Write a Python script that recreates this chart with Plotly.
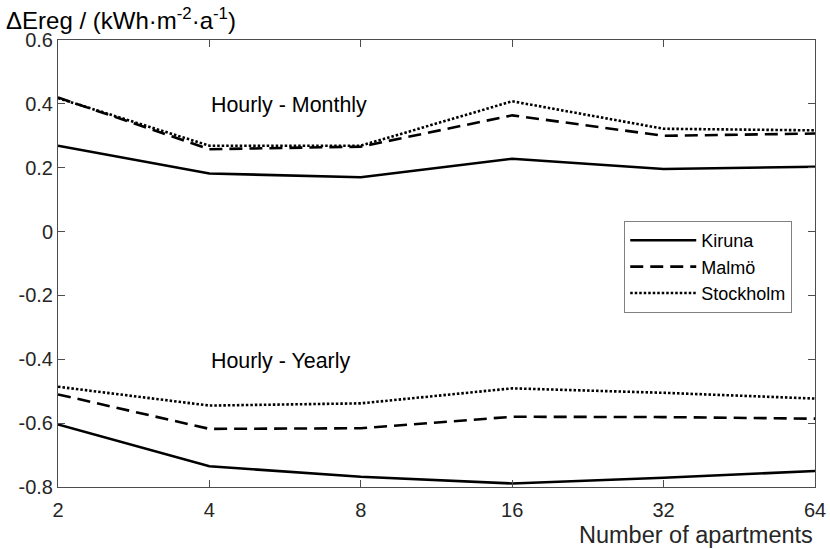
import plotly.graph_objects as go

apartments = [2, 4, 8, 16, 32, 64]
tick_labels = ["2", "4", "8", "16", "32", "64"]
y_ticks = [-0.8, -0.6, -0.4, -0.2, 0, 0.2, 0.4, 0.6]
y_tick_labels = ["-0.8", "-0.6", "-0.4", "-0.2", "0", "0.2", "0.4", "0.6"]

cities = ["Kiruna", "Malmö", "Stockholm"]
kiruna_monthly = [0.269, 0.182, 0.170, 0.228, 0.196, 0.203]
malmo_monthly = [0.420, 0.258, 0.266, 0.364, 0.300, 0.307]
stockholm_monthly = [0.418, 0.269, 0.269, 0.408, 0.322, 0.317]
kiruna_yearly = [-0.604, -0.735, -0.768, -0.789, -0.771, -0.750]
malmo_yearly = [-0.510, -0.618, -0.616, -0.580, -0.581, -0.586]
stockholm_yearly = [-0.486, -0.545, -0.538, -0.491, -0.505, -0.523]

monthly = [kiruna_monthly, malmo_monthly, stockholm_monthly]
yearly = [kiruna_yearly, malmo_yearly, stockholm_yearly]
dashes = ["solid", "13px,7px", "2.5px,2px"]

fig = go.Figure()
for name, m, y, d in zip(cities, monthly, yearly, dashes):
    fig.add_trace(go.Scatter(x=apartments, y=m, mode="lines", name=name,
                             legendgroup=name, showlegend=True,
                             line=dict(color="black", width=2.6, dash=d)))
    fig.add_trace(go.Scatter(x=apartments, y=y, mode="lines", name=name,
                             legendgroup=name, showlegend=False,
                             line=dict(color="black", width=2.6, dash=d)))

axis_color = "#4d4d4d"
font_col = "#262626"
fig.update_layout(
    width=830, height=549,
    margin=dict(l=58, r=15, t=40, b=62),
    paper_bgcolor="white", plot_bgcolor="white",
    font=dict(family="Liberation Sans, Arial, sans-serif", size=20, color=font_col),
    xaxis=dict(type="log", range=[0.30103, 1.80618], tickvals=apartments,
               ticktext=tick_labels, ticks="inside", ticklen=7, tickcolor=axis_color,
               showline=True, linecolor=axis_color, linewidth=1, mirror="ticks",
               showgrid=False, zeroline=False, tickfont=dict(size=20),
               ticklabelstandoff=5, automargin=False),
    yaxis=dict(range=[-0.8, 0.6], tickvals=y_ticks, ticktext=y_tick_labels,
               ticks="inside", ticklen=7, tickcolor=axis_color,
               showline=True, linecolor=axis_color, linewidth=1, mirror="ticks",
               showgrid=False, zeroline=False, tickfont=dict(size=20),
               automargin=False),
    legend=dict(x=0.748, y=0.595, xanchor="left", yanchor="top",
                bgcolor="white", bordercolor="#808080", borderwidth=1,
                font=dict(size=18, color="black"), tracegroupgap=0,
                itemwidth=66),
    showlegend=True,
)

fig.add_annotation(text="ΔEreg / (kWh·m<sup>-2</sup>·a<sup>-1</sup>)", xref="paper", yref="paper",
                   x=-0.071, y=1.0, xanchor="left", yanchor="bottom", yshift=4,
                   showarrow=False, font=dict(size=24, color="black"))
fig.add_annotation(text="Number of apartments", xref="paper", yref="paper",
                   x=1.0, y=0, xanchor="right", yanchor="top", yshift=-33,
                   showarrow=False, font=dict(size=23.5, color=font_col))
fig.add_annotation(text="Hourly - Monthly", x=0.30103 + 0.30103, y=0.397, xref="x", yref="y",
                   xanchor="left", yanchor="middle", showarrow=False,
                   font=dict(size=21.4, color="black"))
fig.add_annotation(text="Hourly - Yearly", x=0.30103 + 0.30103, y=-0.404, xref="x", yref="y",
                   xanchor="left", yanchor="middle", showarrow=False,
                   font=dict(size=21.4, color="black"))

fig.write_html("out.html", config={"displayModeBar": False},
               post_script="document.body.style.margin='0';document.body.style.overflow='hidden';")
